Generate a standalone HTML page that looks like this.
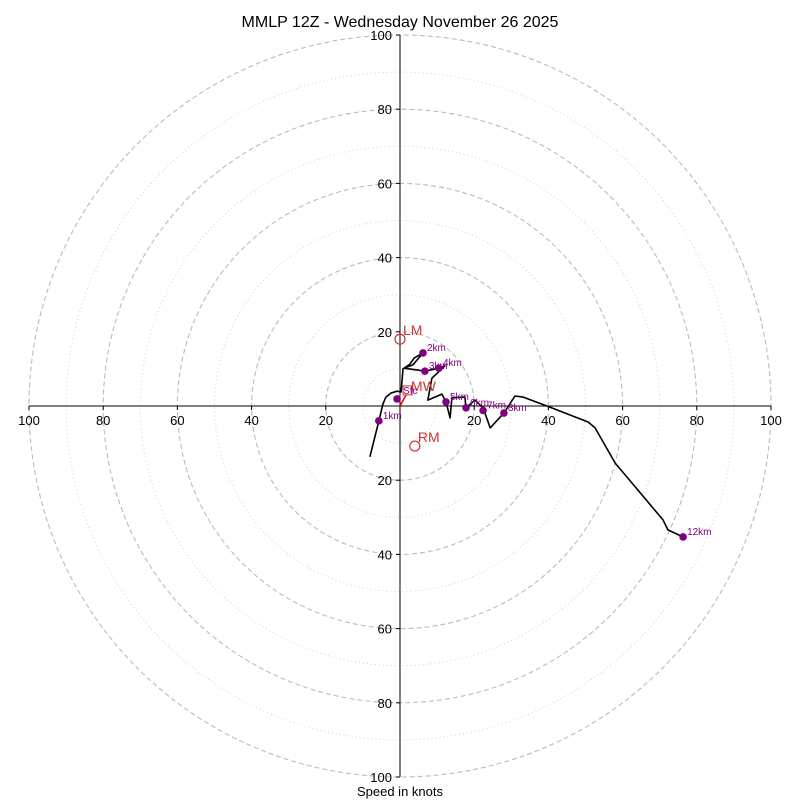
<!DOCTYPE html>
<html><head><meta charset="utf-8"><style>
body{margin:0;background:#fff;}
svg{display:block;font-family:"Liberation Sans","DejaVu Sans",sans-serif;}
</style></head><body>
<svg id="chart" width="800" height="800" viewBox="0 0 800 800" xmlns="http://www.w3.org/2000/svg">
<rect width="800" height="800" fill="#fff"/>
<text x="400" y="27" text-anchor="middle" font-size="16">MMLP 12Z - Wednesday November 26 2025</text>
<g id="rings"></g>
<g id="axes"></g>
<g id="trace"></g>
<g id="markers"></g>
<text x="400" y="796" text-anchor="middle" font-size="13">Speed in knots</text>
</svg>
<script>
const ringValues = [10,20,30,40,50,60,70,80,90,100];
const tickValues = [20,40,60,80,100];
const traceU = [-8.1,-5.7,-4.6,-3.8,-2.4,-0.8,0.3,0.8,2.7,3.8,6.2,3.5,1.1,6.7,10.5,12.1,8.6,7.5,11.3,12.4,13.5,14.0,17.5,17.8,20.2,22.4,24.3,28.0,31.0,33.2,39.6,50.7,52.6,58.0,70.9,72.2,76.3];
const traceV = [-13.7,-4.0,0.5,2.4,3.5,4.0,3.8,10.0,11.3,12.9,14.3,11.1,10.2,9.4,10.2,10.8,7.5,1.6,3.2,1.1,-3.2,2.2,2.4,-0.5,1.6,-0.5,-5.9,-1.9,2.7,2.4,0,-4.3,-5.9,-15.4,-30.7,-33.4,-35.3];
const heightLabels = ["","1km","2km","3km","4km","5km","6km","7km","8km","12km"];
const heightU = [-0.8,-5.7,6.2,6.7,10.5,12.4,17.8,22.4,28.0,76.3];
const heightV = [1.9,-4.0,14.3,9.4,10.2,1.1,-0.5,-1.2,-1.9,-35.3];
const lmU = 0.0, lmV = 18.0, rmU = 4.0, rmV = -10.8, mwU = 1.9, mwV = 3.8;

const CX = 400, CY = 406, R = 3.71;
const sx = u => CX + u * R;
const sy = v => CY - v * R;
const NS = "http://www.w3.org/2000/svg";
function mk(tag, attrs, parent){const e=document.createElementNS(NS,tag);for(const k in attrs)e.setAttribute(k,attrs[k]);parent.appendChild(e);return e;}

const rings = document.getElementById('rings');
ringValues.forEach(r=>{
  const c = mk('circle',{cx:CX,cy:CY,r:r*R,fill:'none',stroke: r%20===0?'#bbb':'#ccc','stroke-width':r%20===0?1.1:0.9,'stroke-dasharray': r%20===0?'5,3':'1,3'},rings);
  
  
});

const axes = document.getElementById('axes');
const ax1 = mk('line',{x1:sx(-100),y1:CY,x2:sx(100),y2:CY,stroke:'#000','stroke-width':1},axes);


const ax2 = mk('line',{x1:CX,y1:sy(100),x2:CX,y2:sy(-100),stroke:'#000','stroke-width':1},axes);


tickValues.forEach(t=>{
  [-t,t].forEach(s=>{
    mk('line',{x1:sx(s),y1:CY,x2:sx(s),y2:CY+4,stroke:'#000'},axes);
    const tx = mk('text',{x:sx(s),y:CY+19,'text-anchor':'middle','font-size':13},axes);
    tx.textContent = t;
    
    
    mk('line',{x1:CX-4,y1:sy(s),x2:CX,y2:sy(s),stroke:'#000'},axes);
    const ty = mk('text',{x:CX-8,y:sy(s)+5,'text-anchor':'end','font-size':13},axes);
    ty.textContent = t;
    
    
  });
});

const trace = document.getElementById('trace');
const pts = traceU.map((u,i)=>sx(u).toFixed(1)+','+sy(traceV[i]).toFixed(1)).join(' ');
const pl = mk('polyline',{points:pts,fill:'none',stroke:'#000','stroke-width':1.6,'stroke-linejoin':'round'},trace);



const mg = document.getElementById('markers');
const arrow = mk('line',{x1:CX,y1:CY,x2:sx(mwU)-1,y2:sy(mwV)+3,stroke:'#e00','stroke-width':1.5},mg);


const mwBox = mk('rect',{x:sx(mwU)-4,y:sy(mwV)-6,width:9,height:9,fill:'none',stroke:'#c33','stroke-width':1},mg);


const mwT = mk('text',{x:sx(mwU)+4,y:sy(mwV)-1,fill:'#c33','font-size':14},mg);
mwT.textContent='MW';


heightU.forEach((u,i)=>{
  const c = mk('circle',{cx:sx(u),cy:sy(heightV[i]),r:3.8,fill:'#800080'},mg);
  
  
  if(heightLabels[i]){
    const t = mk('text',{x:sx(u)+4,y:sy(heightV[i])-2,fill:'#800080','font-size':10},mg);
    t.textContent = heightLabels[i];
    
    
  }
});
const sfc = mk('text',{x:sx(mwU)-4,y:sy(mwV)+2,fill:'#800080','font-size':10},mg);
sfc.textContent='Sfc';


[[lmU,lmV,'LM'],[rmU,rmV,'RM']].forEach(([u,v,l])=>{
  const c = mk('circle',{cx:sx(u),cy:sy(v),r:5,fill:'none',stroke:'#c33','stroke-width':1.2},mg);
  
  
  const t = mk('text',{x:sx(u)+3,y:sy(v)-4,fill:'#c33','font-size':14},mg);
  t.textContent=l;
  
  
});
</script>
</body></html>
